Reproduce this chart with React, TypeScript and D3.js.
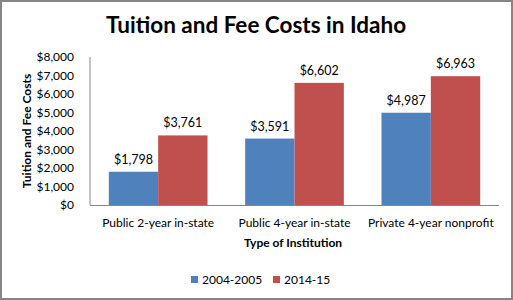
import React from "react";
import * as d3 from "d3";

const categories = ["Public 2-year in-state", "Public 4-year in-state", "Private 4-year nonprofit"];
const seriesNames = ["2004-2005", "2014-15"];
const series2004 = [1798, 3591, 4987];
const series2014 = [3761, 6602, 6963];
const yTicks = [0, 1000, 2000, 3000, 4000, 5000, 6000, 7000, 8000];
const colors = ["#4F81BD", "#C0504D"];

const W = 513;
const H = 300;
const FONT = "Lato, 'Open Sans', sans-serif";

export default function App() {
  const x0 = d3.scaleBand<string>().domain(categories).range([90, 499]).paddingInner(0.276).paddingOuter(0.138);
  const x1 = d3.scaleBand<string>().domain(seriesNames).range([0, x0.bandwidth()]);
  const y = d3.scaleLinear().domain([0, 8000]).range([205, 57]);
  const fmt = (v: number) => "$" + d3.format(",")(v);
  const data = [series2004, series2014];

  return (
    <svg width={W} height={H} style={{ position: "absolute", left: 0, top: 0, background: "#fff" }} fontFamily={FONT}>
      <rect x={1} y={1} width={W - 2} height={H - 2} fill="#fff" stroke="#868686" strokeWidth={2} />
      <text x={256} y={33} textAnchor="middle" fontSize={22.5} fontWeight="bold" fill="#000">
        Tuition and Fee Costs in Idaho
      </text>
      {yTicks.map((t) => (
        <text key={t} x={74} y={y(t)} dy="0.35em" textAnchor="end" fontSize={12} fill="#000">
          {fmt(t)}
        </text>
      ))}
      <text transform={`translate(27,${131}) rotate(-90)`} textAnchor="middle" dy="0.35em" fontSize={12} fontWeight="bold" fill="#000">
        Tuition and Fee Costs
      </text>
      {categories.map((c, i) =>
        seriesNames.map((s, j) => {
          const v = data[j][i];
          const bx = (x0(c) as number) + (x1(s) as number);
          return (
            <g key={c + s}>
              <rect x={bx} y={y(v)} width={x1.bandwidth()} height={y(0) - y(v)} fill={colors[j]} />
              <text x={bx + x1.bandwidth() / 2} y={y(v) - 8} textAnchor="middle" fontSize={12.5} fill="#000">
                {fmt(v)}
              </text>
            </g>
          );
        })
      )}
      <line x1={90} x2={90} y1={57} y2={205} stroke="#868686" />
      <line x1={90} x2={499} y1={205.5} y2={205.5} stroke="#868686" />
      {categories.map((c) => (
        <text key={c} x={(x0(c) as number) + x0.bandwidth() / 2} y={227} textAnchor="middle" fontSize={12} fill="#000">
          {c}
        </text>
      ))}
      <text x={293} y={247} textAnchor="middle" fontSize={12} fontWeight="bold" fill="#000">
        Type of Institution
      </text>
      {seriesNames.map((s, j) => {
        const lx = [191, 273][j];
        return (
          <g key={s}>
            <rect x={lx} y={276} width={7} height={7} fill={colors[j]} />
            <text x={lx + 11} y={283.5} fontSize={12} fill="#000">
              {s}
            </text>
          </g>
        );
      })}
    </svg>
  );
}
